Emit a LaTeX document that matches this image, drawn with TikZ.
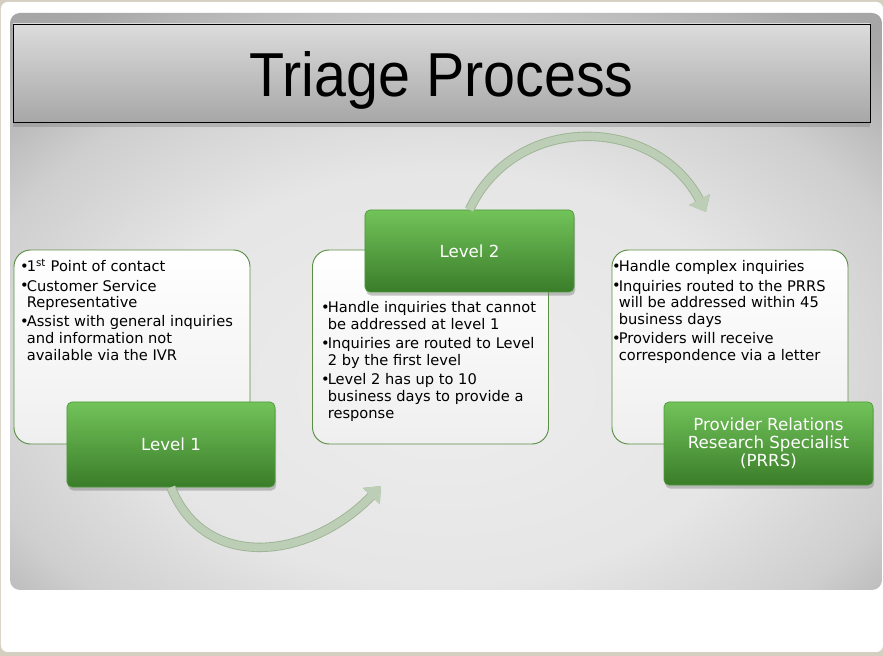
\documentclass[tikz,border=0pt]{standalone}
\usepackage{fontspec}
\setmainfont{DejaVu Sans}
\newfontfamily\titlefont{Liberation Sans}
\usetikzlibrary{shadows,arrows.meta}

\definecolor{slidebg}{HTML}{D5CFC1}
\definecolor{titletop}{HTML}{DCDCDC}
\definecolor{titlebot}{HTML}{A7A7A7}
\definecolor{boxedge}{HTML}{5B8F45}
\definecolor{boxfill}{HTML}{EFEFEF}
\definecolor{lvltop}{HTML}{72C35A}
\definecolor{lvlbot}{HTML}{3A7D29}
\definecolor{lvledge}{HTML}{4E9A3A}
\definecolor{flowgreen}{HTML}{BCCEB5}
\definecolor{flowedge}{HTML}{9DB394}

% grey panel: light centre a little below the middle, darker rim
\pgfdeclareradialshading{panelshade}{\pgfpoint{0bp}{-8bp}}{%
    color(0bp)=(black!7); color(18bp)=(black!10); color(28bp)=(black!19);
    color(36bp)=(black!34); color(50bp)=(black!40); color(100bp)=(black!40)}

% bullet used in the three lists
\newcommand{\bul}{\makebox[5.6pt][l]{\raisebox{0.02ex}{\fontsize{12.5}{12.5}\selectfont •}}}
\renewcommand{\arraystretch}{1}

\begin{document}
\begin{tikzpicture}[x=0.03cm, y=-0.03cm,
    infobox/.style={draw=boxedge, line width=0.8pt, rounded corners=0.5cm,
        top color=white, bottom color=boxfill,
        minimum width=7.08cm, minimum height=5.82cm},
    lvlbox/.style={draw=lvledge, line width=0.6pt, rounded corners=0.15cm,
        top color=lvltop, bottom color=lvlbot, text=white, align=center,
        font=\fontsize{14.2}{15.6}\selectfont,
        drop shadow={shadow xshift=1pt, shadow yshift=-3pt, opacity=0.45}},
    listtxt/.style={anchor=base west, inner sep=0pt,
        font=\fontsize{12.5}{14.3}\selectfont},
    flow/.style={draw=flowgreen, line width=6.5pt,
        preaction={draw=flowedge, line width=8pt},
        -{Triangle[length=0.42cm, width=0.68cm]}}]
    % page: 883 x 656 px, 1 px = 0.03 cm
    \useasboundingbox (0,0) rectangle (883,656);
    \fill[slidebg] (0,0) rectangle (883,656);
    \fill[white, rounded corners=0.2cm] (1,2) rectangle (883,652);
    \path[shading=panelshade, rounded corners=0.3cm] (10,13) rectangle (882,590);
    % title bar
    \node[draw=black, line width=0.8pt, top color=titletop, bottom color=titlebot,
        minimum width=25.71cm, minimum height=2.94cm,
        drop shadow={shadow xshift=0pt, shadow yshift=-4pt, opacity=0.4}] (title) at (441.5,73) {};
    \node[inner sep=0pt, anchor=base, font=\titlefont\fontsize{53}{60}\selectfont]
        (titletxt) at (441.5,96.5) {\scalebox{0.925}[1]{Triage Process}};

    % text boxes
    \node[infobox] (box1) at (132,347) {};
    \node[infobox] (box2) at (430.5,347) {};
    \node[infobox] (box3) at (730,347) {};

    % level boxes
    \node[lvlbox, minimum width=6.24cm, minimum height=2.55cm] (lvl1) at (171,444.5) {Level 1};
    \node[lvlbox, minimum width=6.27cm, minimum height=2.46cm] (lvl2) at (469.5,251) {Level 2};
    \node[lvlbox, minimum width=6.27cm, minimum height=2.49cm] (prrs) at (768.5,443.5)
        {Provider Relations\\Research Specialist\\(PRRS)};

    % lists
    \node[listtxt] (list1) at (20,272) {\begin{tabular}[t]{@{}l@{}l@{}}
        \bul & 1\textsuperscript{st} Point of contact\\[2pt]
        \bul & Customer Service\\
             & Representative\\[2pt]
        \bul & Assist with general inquiries\\
             & and information not\\
             & available via the IVR
        \end{tabular}};
    \node[listtxt] (list2) at (321,313) {\begin{tabular}[t]{@{}l@{}l@{}}
        \bul & Handle inquiries that cannot\\
             & be addressed at level 1\\[2pt]
        \bul & Inquiries are routed to Level\\
             & 2 by the first level\\[2pt]
        \bul & Level 2 has up to 10\\
             & business days to provide a\\
             & response
        \end{tabular}};
    \node[listtxt] (list3) at (612,272) {\begin{tabular}[t]{@{}l@{}l@{}}
        \bul & Handle complex inquiries\\[2pt]
        \bul & Inquiries routed to the PRRS\\
             & will be addressed within 45\\
             & business days\\[2pt]
        \bul & Providers will receive\\
             & correspondence via a letter
        \end{tabular}};

    % curved arrows between levels
    \coordinate (end1) at (381,486);
    \coordinate (end2) at (706,212);
    \draw[flow] (lvl1.south) .. controls (205,572) and (310,560) .. (end1);
    \draw[flow] (lvl2.north) .. controls (515,112) and (655,115) .. (end2);
\end{tikzpicture}
\end{document}
